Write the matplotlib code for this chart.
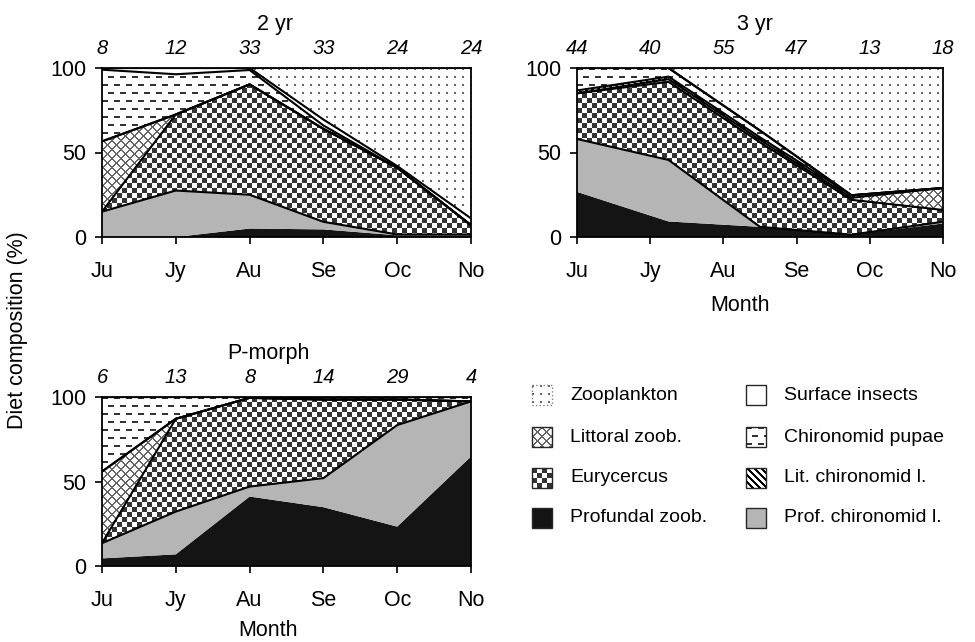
import numpy as np
import matplotlib
matplotlib.use('Agg')
import matplotlib.pyplot as plt
import matplotlib.transforms as mtransforms
from matplotlib.patches import Rectangle

plt.rcParams['font.family'] = ['Liberation Sans', 'DejaVu Sans']
plt.rcParams['font.size'] = 15.5

months = ['Ju', 'Jy', 'Au', 'Se', 'Oc', 'No']
layers = ['Profundal zoob.', 'Prof. chironomid l.', 'Eurycercus', 'Littoral zoob.',
          'Lit. chironomid l.', 'Chironomid pupae', 'Surface insects', 'Zooplankton']

# 2 yr (values in % per layer, bottom to top)
x_2yr = [0, 1, 2, 3, 4, 5]
n_2yr = [8, 12, 33, 33, 24, 24]
prof_zoob_2yr = [0, 0, 5, 4.5, 1, 1]
prof_chir_2yr = [15, 27.5, 20, 4.5, 0.5, 0.5]
eury_2yr = [0, 45, 65.3, 55, 39.5, 5.5]
litt_2yr = [41.6, 0, 0, 0, 0, 0]
litchir_2yr = [0, 0, 0, 0, 0, 0]
pupae_2yr = [42.4, 23.8, 8.5, 2, 0, 0]
surface_2yr = [1, 3.7, 1.2, 3.5, 1, 4]
zoopl_2yr = [0, 0, 0, 30.5, 58, 89]

# 3 yr (sampled at uneven positions along the month axis)
x_3yr = [0, 1.25, 2.5, 3.75, 5]
n_3yr = [44, 40, 55, 47, 13, 18]
prof_zoob_3yr = [26.7, 9.2, 6, 1.4, 8]
prof_chir_3yr = [31.3, 36.4, 0, 0, 1]
eury_3yr = [27, 46.2, 50, 20.6, 7]
litt_3yr = [0, 1.6, 1.5, 1.2, 13]
litchir_3yr = [1.7, 1.5, 1.5, 1.5, 0]
pupae_3yr = [13.3, 5.1, 4, 0, 0]
surface_3yr = [0, 0, 0, 0, 0]
zoopl_3yr = [0, 0, 37, 75.3, 71]

# P-morph
x_pm = [0, 1, 2, 3, 4, 5]
n_pm = [6, 13, 8, 14, 29, 4]
prof_zoob_pm = [4.5, 6.9, 41.1, 34.8, 23.3, 64.8]
prof_chir_pm = [9, 25.3, 5.9, 17.2, 60.1, 32.6]
eury_pm = [0, 54.9, 52.5, 46.5, 15.1, 0]
litt_pm = [42.4, 0, 0, 0, 0, 0]
litchir_pm = [0, 0, 0, 0, 0, 0]
pupae_pm = [44.1, 12.9, 0.5, 1.5, 1.5, 2.6]
surface_pm = [0, 0, 0, 0, 0, 0]
zoopl_pm = [0, 0, 0, 0, 0, 0]

styles = {'Profundal zoob.': '#141414', 'Prof. chironomid l.': '#b4b5b4',
          'Eurycercus': 'checker', 'Littoral zoob.': 'cross',
          'Lit. chironomid l.': 'stripe', 'Chironomid pupae': 'dash',
          'Surface insects': 'white', 'Zooplankton': 'dots'}
patterned = ('dots', 'cross', 'checker', 'dash', 'stripe')


def pattern(kind, w, h):
    yy, xx = np.mgrid[0:h, 0:w]
    img = np.ones((h, w, 3))
    if kind == 'dots':
        img[(xx % 8 < 2) & (yy % 8 < 2)] = 0.4
    elif kind == 'cross':
        img[((xx + yy) % 9 < 2) | ((xx - yy) % 9 < 2)] = 0.4
    elif kind == 'checker':
        img[((xx // 5) + (yy // 5)) % 2 == 0] = 0.2
    elif kind == 'dash':
        off = ((yy // 8) % 2) * 6
        img[((xx + off) % 12 < 6) & (yy % 8 < 2)] = 0.2
    elif kind == 'stripe':
        img[(xx - yy) % 7 < 3] = 0.0
    return img


def fill(ax, x, lo, hi, style, w, h, extent):
    if style in patterned:
        poly = ax.fill_between(x, lo, hi, facecolor='white', linewidth=0, zorder=1)
        im = ax.imshow(pattern(style, w, h), extent=extent, aspect='auto',
                       interpolation='nearest', zorder=1)
        im.set_clip_path(poly.get_paths()[0], ax.transData)
    else:
        ax.fill_between(x, lo, hi, facecolor=style, linewidth=0, zorder=1)


fig = plt.figure(figsize=(9.75, 6.42), dpi=100)

panels = [
    ('2 yr', [102, 237, 369, 169], x_2yr, n_2yr,
     [prof_zoob_2yr, prof_chir_2yr, eury_2yr, litt_2yr, litchir_2yr,
      pupae_2yr, surface_2yr, zoopl_2yr], 0.47),
    ('3 yr', [577, 237, 366, 169], x_3yr, n_3yr,
     [prof_zoob_3yr, prof_chir_3yr, eury_3yr, litt_3yr, litchir_3yr,
      pupae_3yr, surface_3yr, zoopl_3yr], 0.486),
    ('P-morph', [102, 566, 369, 169], x_pm, n_pm,
     [prof_zoob_pm, prof_chir_pm, eury_pm, litt_pm, litchir_pm,
      pupae_pm, surface_pm, zoopl_pm], 0.45),
]

W, H = 975, 642
for title, (left, bottom, w, h), x, n, vals, tx in panels:
    ax = fig.add_axes([left / W, (H - bottom) / H, w / W, h / H])
    x = np.array(x, dtype=float)
    lo = np.zeros(len(x))
    tops = []
    for name, v in zip(layers, vals):
        hi = lo + np.array(v, dtype=float)
        fill(ax, x, lo, hi, styles[name], w, h, (0, 5, 0, 100))
        tops.append(hi)
        lo = hi
    for top in tops[1:]:
        ax.plot(x, top, color='black', lw=1.5, zorder=3, solid_joinstyle='miter')
    ax.set_xlim(0, 5)
    ax.set_ylim(0, 100)
    ax.set_xticks(range(6), months)
    ax.set_yticks([0, 50, 100])
    ax.tick_params(axis='x', direction='out', length=5, width=1.2, pad=12)
    ax.tick_params(axis='y', direction='out', length=5, width=1.2, pad=6.5)
    for s in ax.spines.values():
        s.set_linewidth(1.3)
        s.set_zorder(4)
    trans = mtransforms.blended_transform_factory(ax.transData, ax.transAxes)
    for xi, ni in enumerate(n):
        ax.text(xi, 1.113, str(ni), transform=trans, style='italic',
                fontsize=14.5, ha='center', va='center')
    ax.text(tx, 1.255, title, transform=ax.transAxes, fontsize=15.5,
            ha='center', va='center')

fig.text(740 / W, 1 - 306 / H, 'Month', ha='center', va='center')
fig.text(268 / W, 1 - 631 / H, 'Month', ha='center', va='center')
fig.text(18 / W, 1 - 330 / H, 'Diet composition (%)', rotation=90,
         ha='center', va='center')

# legend drawn in pixel coordinates
leg = fig.add_axes([0, 0, 1, 1], zorder=-1)
leg.axis('off')
legend_cols = [['Zooplankton', 'Littoral zoob.', 'Eurycercus', 'Profundal zoob.'],
               ['Surface insects', 'Chironomid pupae', 'Lit. chironomid l.',
                'Prof. chironomid l.']]
row_tops = [385, 427, 468, 508]
for x0, names in zip([532, 746], legend_cols):
    for y0, name in zip(row_tops, names):
        st = styles[name]
        if st in patterned:
            leg.imshow(pattern(st, 20, 20), extent=(x0, x0 + 20, y0 + 20, y0),
                       aspect='auto', interpolation='nearest')
            fc = 'none'
        else:
            fc = st
        ls = ':' if st == 'dots' else '-'
        ec = '0.5' if st == 'dots' else '0.15'
        leg.add_patch(Rectangle((x0, y0), 20, 20, facecolor=fc, edgecolor=ec,
                                lw=1.0, linestyle=ls))
        leg.text(x0 + 38, y0 + 10, name, fontsize=14, ha='left', va='center')
leg.set_xlim(0, W)
leg.set_ylim(H, 0)

fig.savefig('out.png', dpi=100)
